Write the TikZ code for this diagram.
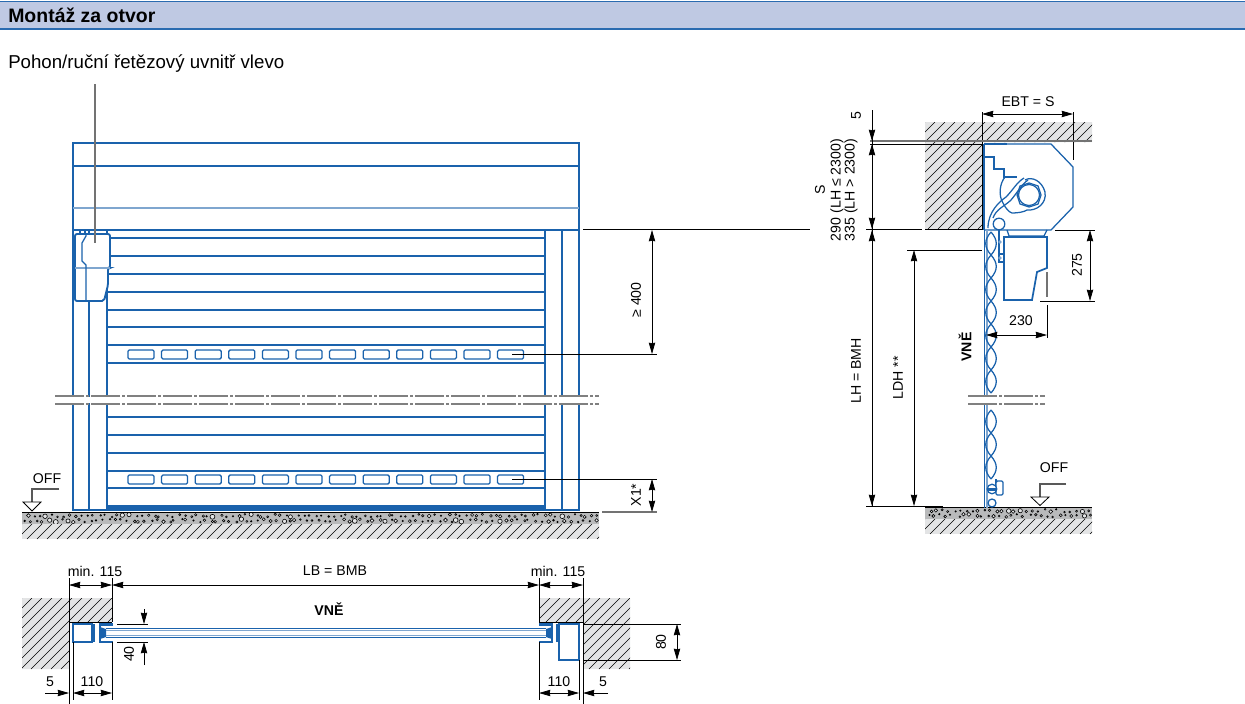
\documentclass[tikz,border=0pt]{standalone}
\usepackage{fontspec}
\setmainfont{Liberation Sans}
\usepackage{tikz}
\usetikzlibrary{arrows.meta}
\definecolor{doorblue}{HTML}{1A62AC}
\definecolor{softblue}{HTML}{7FA6CF}
\definecolor{headband}{HTML}{BFC9E3}
\definecolor{headline}{HTML}{2A6BB0}
\definecolor{wallgray}{HTML}{E3E4E5}
\definecolor{concgray}{HTML}{B9BABB}
\tikzset{fr/.style={draw=doorblue,line width=.95pt},soft/.style={draw=softblue,line width=1.1pt},
  lnk/.style={draw=doorblue,line width=.95pt},
  dim/.style={line width=.55pt,{Stealth[length=8.5pt,width=4.8pt,inset=.5pt]}-{Stealth[length=8.5pt,width=4.8pt,inset=.5pt]}},
  dimend/.style={line width=.55pt,-{Stealth[length=8.5pt,width=4.8pt,inset=.5pt]}},
  ext/.style={line width=.55pt},grayext/.style={draw=black!55,line width=.8pt},
  brk/.style={draw=black!50,line width=1pt,dash pattern=on 22pt off 1.5pt on 2pt off 1.5pt},
  lbl/.style={inner sep=0pt,font=\fontsize{10.6}{12}\selectfont},
  rlbl/.style={lbl,rotate=90},blbl/.style={inner sep=0pt,font=\fontsize{10.6}{12}\selectfont\bfseries}}
\newcommand{\wallhatch}[5]{% clip path, x1, x2, y1, y2
  \fill[wallgray] #1;
  \begin{scope}
  \clip #1;
  \pgfmathsetmacro{\hfirst}{#2-(#5-#4)}
  \pgfmathsetmacro{\hnext}{\hfirst+10}
  \foreach \hx in {\hfirst,\hnext,...,#3}
    \draw[line width=.5pt] (\hx,#5) -- ++({#5-#4},{-(#5-#4)});
  \end{scope}
}
\newcommand{\concband}[4]{% x1, x2, y1, y2
  \fill[concgray] (#1,#3) rectangle (#2,#4);
  \begin{scope}
  \clip (#1,#3) rectangle (#2,#4);
  \pgfmathsetmacro{\nstones}{int((#2-#1)/3)}
  \foreach \k in {1,...,\nstones}{
    \pgfmathsetmacro{\sx}{#1+\k*3+2*rand}
    \pgfmathsetmacro{\sy}{#3+(#4-#3)*(mod(\k,2)==0?.3:.72)+1.5*rand}
    \pgfmathsetmacro{\sr}{.7+2*rnd*rnd}
    \draw[line width=.45pt,fill=wallgray] (\sx,\sy) circle[radius=\sr];
  }
  \end{scope}
  \draw[line width=.7pt] (#1,#3) -- (#2,#3) (#1,#4) -- (#2,#4);
}
\begin{document}
\begin{tikzpicture}[x=.75pt,y=-.75pt]
\useasboundingbox (0,0) rectangle (1245,703);
\pgfmathsetseed{7}
% header
\fill[headband] (0,1) rectangle (1245,29);
\draw[headline,line width=.8pt] (0,1.5) -- (1245,1.5);
\draw[headline,line width=1.4pt] (0,29) -- (1245,29);
\node[anchor=west,inner sep=0pt,font=\fontsize{14.6}{16}\selectfont\bfseries] (title) at (8,15.5) {Montáž za otvor};
\node[anchor=west,inner sep=0pt,font=\fontsize{14}{16}\selectfont] (drive) at (8,64) {Pohon/ruční řetězový uvnitř vlevo};
% elevation
\concband{22}{599}{512}{524}
\wallhatch{(22,524) rectangle (599,539)}{22}{599}{524}{539}
\draw[fr] (73,143) rectangle (579,230);
\draw[fr] (73,166) -- (579,166);
\draw[soft] (73,208) -- (579,208);
\draw[fr] (73,230) -- (73,510) -- (579,510) -- (579,230);
\draw[fr] (89,230) -- (89,510) (107,230) -- (107,510) (545,230) -- (545,510) (562,230) -- (562,510);
\foreach \y in {238,256,274,292,310,327,345,363,417,435,453,471,488}
  \draw[fr] (107,\y) -- (545,\y);
\fill[doorblue] (107,505) rectangle (545,510);
\foreach \y in {350,475}{
  \foreach \k in {0,...,11}
    \draw[fr,rounded corners=1pt] ({128+33.6*\k},\y) rectangle ++(26,9);
}
\fill[white] (50,397) rectangle (605,403);
\draw[brk] (55,396) -- (599,396) (55,404) -- (599,404);
% motor
\fill[white] (75,234) rectangle (110,268);
\fill[white] (75,268) -- (108,268) -- (108,285) -- (104,301) -- (75,301) -- cycle;
\draw[fr,line width=1.4pt,rounded corners=1.5pt] (75,268) -- (75,234) -- (110,234) -- (110,268) -- (108,268) -- (108,285) -- (104,301) -- (75,301) -- cycle;
\draw[soft] (75,268) -- (110,268);
\draw[fr] (86,234) -- (86,236) -- (82,243) -- (82,261) -- (86,265) -- (86,301);
\draw[fr] (80,230) -- (80,234) (85,230) -- (85,234) (89,230) -- (89,234) (107,230) -- (107,234);
\draw[grayext] (95,84) -- (95,243);
% elevation dims
\draw[ext] (583,229) -- (810,229);
\draw[ext] (512,354.5) -- (657,354.5) (512,479) -- (657,479);
\draw[grayext] (602,512) -- (657,512);
\draw[dim] (652,230) -- (652,354);
\draw[dim] (652,479) -- (652,512);
\node[rlbl] (min400) at (636,300) {≥ 400};
\node[rlbl] (xone) at (636,495) {X1*};
\node[lbl] (offl) at (47,479) {OFF};
\draw[grayext,draw=black!65] (59,489) -- (32,489) -- (32,502);
\draw[line width=.6pt,fill=white] (23,502) -- (41,502) -- (32,511) -- cycle;
% plan, left
\wallhatch{(22,598) -- (112,598) -- (112,622) -- (69,622) -- (69,669) -- (22,669) -- cycle}{22}{112}{598}{669}
\wallhatch{(583,622) -- (540,622) -- (540,598) -- (630,598) -- (630,669) -- (583,669) -- cycle}{540}{630}{598}{669}
\draw[ext] (69,578) -- (69,706) (69,622) -- (112,622) (112,578) -- (112,622);
\draw[ext] (539,578) -- (539,622) -- (583,622) (583,578) -- (583,706);
\draw[fr,line width=1.4pt] (73,624) rectangle (92,642);
\fill[doorblue] (91,624) rectangle (95,642);
\draw[fr,line width=1.6pt] (113,624.5) -- (100,624.5) -- (100,642) -- (113,642);
\fill[doorblue] (100,627) -- (106,629) -- (106,637) -- (100,639) -- cycle;
\draw[fr,line width=1.2pt] (106,628.5) -- (546,628.5) (106,637.5) -- (546,637.5);
\draw[soft,line width=.6pt] (106,630.5) -- (546,630.5) (106,635.5) -- (546,635.5);
\draw[fr,line width=1.4pt] (559,624) rectangle (579,660);
\fill[doorblue] (556,624) rectangle (560,642);
\draw[fr,line width=1.6pt] (539,624.5) -- (552,624.5) -- (552,642) -- (539,642);
\fill[doorblue] (552,627) -- (546,629) -- (546,637) -- (552,639) -- cycle;
% plan dims
\draw[dim] (69,585) -- (112,585);
\draw[dim] (112,585) -- (539,585);
\draw[dim] (539,585) -- (583,585);
\node[lbl] (minl) at (95,571) {min. 115};
\node[lbl] (lb) at (335,571) {LB = BMB};
\node[lbl] (minr) at (558,571) {min. 115};
\node[blbl] (vnep) at (329,609) {VNĚ};
\draw[ext] (117,624) -- (148,624) (117,642) -- (148,642);
\draw[dimend] (144,609) -- (144,624);
\draw[dimend] (144,665) -- (144,642);
\node[rlbl] (forty) at (129,654) {40};
\draw[ext] (73,642) -- (73,700) (112,642) -- (112,700) (539,642) -- (539,700) (579,660) -- (579,700);
\draw[dimend] (45,693) -- (69,693);
\draw[dim] (73,693) -- (112,693);
\draw[dim] (539,693) -- (579,693);
\draw[dimend] (608,693) -- (583,693);
\node[lbl] (fivel) at (50,682) {5};
\node[lbl] (onetenl) at (92,682) {110};
\node[lbl] (onetenr) at (559,682) {110};
\node[lbl] (fiver) at (603,682) {5};
\draw[ext] (583,624) -- (681,624) (583,660) -- (681,660);
\draw[dim] (677,624) -- (677,660);
\node[rlbl] (eighty) at (661,642) {80};
% section
\wallhatch{(925,122) -- (1092,122) -- (1092,142) -- (982,142) -- (982,229) -- (925,229) -- cycle}{925}{1092}{122}{229}
\concband{925}{1092}{507}{519}
\wallhatch{(925,519) rectangle (1092,534)}{925}{1092}{519}{534}
\draw[ext] (982,112) -- (982,229) -- (925,229);
\draw[ext] (1073,112) -- (1073,160);
\draw[grayext] (870,141) -- (1092,141);
\draw[ext] (870,144) -- (982,144);
\draw[ext] (866,229) -- (922,229);
\draw[ext] (907,250) -- (982,250);
\draw[ext] (866,506) -- (943,506);
% housing
\draw[fr] (984,144) -- (1051,144) -- (1073,167) -- (1073,207) -- (1051,230) -- (984,230);
\draw[fr,line width=1.6pt] (984,144) -- (1007,144) (984,144) -- (984,230);
\draw[fr] (985,157) -- (994,157) -- (994,169) -- (1004,169) -- (1004,177) -- (1017,177);
\draw[fr] (1005,177) .. controls (1000,183) and (998,195) .. (1003,203) .. controls (1006,209) and (1009,212) .. (1012,213) .. controls (1018,213) and (1024,212) .. (1027,210);
\draw[fr] (1025,180) .. controls (1032,176) and (1042,181) .. (1045,192) .. controls (1047,204) and (1036,211) .. (1027,210);
\draw[fr] (1029,183) -- (1038,186) -- (1041,195) -- (1038,204) -- (1029,207) -- (1020,204) -- (1017,195) -- (1020,186) -- cycle;
\draw[fr] (1029,195) circle[radius=10.5];
% guide and chain inside
\draw[fr] (988,228) .. controls (988,212) and (999,202) .. (1006,197) .. controls (1013,190) and (1017,182) .. (1024,178);
\draw[fr] (993,218) .. controls (996,209) and (1005,206) .. (1011,200) .. controls (1017,193) and (1022,184) .. (1028,180);
\draw[fr,fill=white] (999,224) circle[radius=5.8];
\draw[fr] (1007,230) -- (1009,236) -- (1044,236) -- (1047,230);
\draw[fr,line width=1.3pt] (1004,237) -- (1047,237) -- (1047,268) -- (1037,272) -- (1032,300) -- (1004,300) -- cycle;
\draw[fr] (999,230) -- (999,262) (1004,254) -- (998,254) (998,262) -- (1004,262);
\fill[softblue] (1000,242) circle[radius=1.8] (1000,258) circle[radius=1.8];
% curtain
\draw[fr] (984.5,230) -- (984.5,396) (984.5,404) -- (984.5,508);
\draw[soft] (987,230) -- (987,396) (987,404) -- (987,508);
\foreach \y in {232,255,278,301,324,347,370,410,433,456}{
  \draw[lnk] (991,\y) .. controls (984,{\y+8}) and (984,{\y+15}) .. (991,{\y+23});
  \draw[lnk] (991,\y) .. controls (998,{\y+8}) and (998,{\y+15}) .. (991,{\y+23});
}
\draw[lnk] (996,479) -- (996,486);
\draw[fr,rounded corners=1pt,fill=white] (996,481) rectangle (1003,495);
\draw[fr,fill=white] (992,489) circle[radius=4.8];
\fill[doorblue] (987,488) rectangle (997,491);
\draw[fr,fill=white] (992,503) circle[radius=4];
\draw[brk] (968,396) -- (1045,396) (968,404) -- (1045,404);
% section dims
\draw[line width=.55pt] (872,110) -- (872,507);
\draw[dim] (982,114) -- (1073,114);
\node[lbl] (ebt) at (1028,102) {EBT = S};
\draw[dimend] (872,128) -- (872,141);
\draw[dim] (872,144) -- (872,229);
\draw[dim] (872,230) -- (872,506);
\node[rlbl] (fivet) at (856,116) {5};
\node[rlbl] (stext) at (820,190) {S};
\node[rlbl] (h290) at (837,190) {290 (LH ≤ 2300)};
\node[rlbl] (h335) at (851,190) {335 (LH > 2300)};
\node[rlbl] (lh) at (856,371) {LH = BMH};
\node[rlbl] (ldh) at (898,378) {LDH **};
\draw[dim] (914,250) -- (914,506);
\draw[ext] (1055,230) -- (1095,230) (1040,301) -- (1095,301);
\draw[dim] (1090,230) -- (1090,301);
\node[rlbl] (h275) at (1077,265) {275};
\draw[ext] (1047,305) -- (1047,338);
\draw[grayext] (1047,272) -- (1047,297);
\draw[dim] (986,335) -- (1047,335);
\node[lbl] (w230) at (1021,321) {230};
\node[blbl,rotate=90] (vnes) at (965,347) {VNĚ};
\node[lbl] (offr) at (1054,468) {OFF};
\draw[grayext,draw=black!65] (1066,484) -- (1040,484) -- (1040,497);
\draw[line width=.6pt,fill=white] (1031,497) -- (1049,497) -- (1040,505.5) -- cycle;
\end{tikzpicture}
\end{document}
